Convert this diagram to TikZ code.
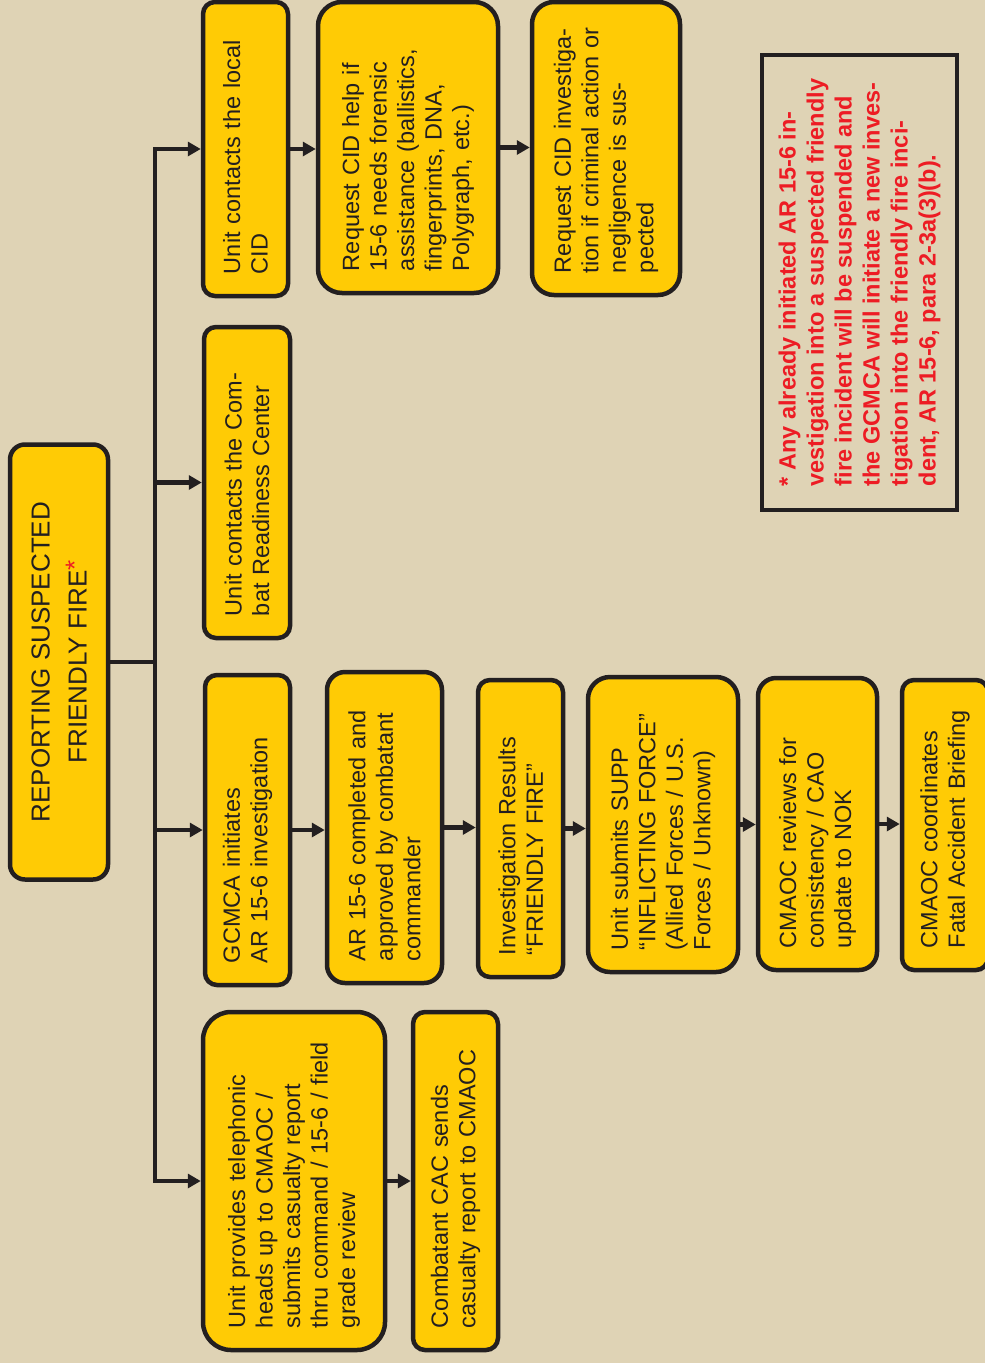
\documentclass[tikz,border=0pt]{standalone}
\usepackage{fontspec}
\setmainfont{Liberation Sans}
\usetikzlibrary{arrows.meta}
\definecolor{ffbg}{HTML}{DFD3B5}
\definecolor{ffbox}{HTML}{FFCB05}
\definecolor{ffline}{HTML}{231F20}
\definecolor{ffred}{HTML}{ED1C24}

\begin{document}
\begin{tikzpicture}[x=1pt,y=-1pt]
\useasboundingbox (0,0) rectangle (985,1363);
\clip (0,0) rectangle (985,1363);
\fill[ffbg] (0,0) rectangle (985,1363);

\begin{scope}[every node/.style={rotate=90,draw=ffline,line width=4.5pt,fill=ffbox,
                rounded corners=12pt,inner sep=0pt,align=left,text=ffline,
                font=\fontsize{23.5}{27.5}\selectfont}]
    \node[minimum width=435pt,minimum height=98pt,rounded corners=15pt,align=center,
          font=\fontsize{26}{37}\selectfont] (rsff) at (59,662)
          {REPORTING SUSPECTED\\FRIENDLY FIRE\raisebox{3pt}{\textcolor{ffred}{*}}};
    % CID branch
    \node[minimum width=294pt,minimum height=85pt,text width=250pt] (cid1) at (245.5,149)
          {Unit contacts the local\\CID};
    \node[minimum width=291pt,minimum height=180pt,text width=247pt,rounded corners=24pt] (cid2) at (408,147.5)
          {Request CID help if\\15-6 needs forensic\\assistance (ballistics,\\fingerprints, DNA,\\Polygraph, etc.)};
    \node[minimum width=293pt,minimum height=148pt,text width=249pt,rounded corners=22pt] (cid3) at (606,148.5)
          {Request CID investiga-\\tion if criminal action or\\negligence is sus-\\pected};
    \node[minimum width=311pt,minimum height=86pt,text width=267pt] (crc) at (247,482.5)
          {Unit contacts the Com-\\bat Readiness Center};
    % investigation branch
    \node[minimum width=310pt,minimum height=85pt,text width=266pt] (gcm) at (247.5,830)
          {GCMCA initiates\\AR 15-6 investigation};
    \node[minimum width=311pt,minimum height=115pt,text width=267pt,rounded corners=18pt] (apr) at (384.5,827.5)
          {AR 15-6 completed and\\approved by combatant\\commander};
    \node[minimum width=297pt,minimum height=85pt,text width=253pt] (res) at (520.5,828.5)
          {Investigation Results\\“FRIENDLY FIRE”};
    \node[minimum width=295pt,minimum height=150pt,text width=251pt,rounded corners=22pt] (supp) at (663,824.5)
          {Unit submits SUPP\\“INFLICTING FORCE”\\(Allied Forces / U.S.\\Forces / Unknown)};
    \node[minimum width=292pt,minimum height=119pt,text width=248pt,rounded corners=18pt] (rev) at (817.5,824)
          {CMAOC reviews for\\consistency / CAO\\update to NOK};
    \node[minimum width=290pt,minimum height=86pt,text width=246pt] (fab) at (945,825)
          {CMAOC coordinates\\Fatal Accident Briefing};
    % casualty report branch
    \node[minimum width=338pt,minimum height=182pt,text width=294pt,rounded corners=28pt] (tel) at (294,1181)
          {Unit provides telephonic\\heads up to CMAOC /\\submits casualty report\\thru command / 15-6 / field\\grade review};
    \node[minimum width=338pt,minimum height=85pt,text width=294pt] (cac) at (455.5,1181)
          {Combatant CAC sends\\casualty report to CMAOC};
    % footnote
    \node[minimum width=455pt,minimum height=195pt,sharp corners,fill=ffbg,text=ffred,
          font=\bfseries\fontsize{23.5}{28}\selectfont] (note) at (859.5,282.5)
          {* Any already initiated AR 15-6 in-\\vestigation into a suspected friendly\\fire incident will be suspended and\\the GCMCA will initiate a new inves-\\tigation into the friendly fire inci-\\dent, AR 15-6, para 2-3a(3)(b).};
\end{scope}

\begin{scope}[>={Triangle[length=13pt,width=14pt]},
              link/.style={draw=ffline,line width=4.5pt}]
    \coordinate (jt) at (155,662);
    \draw[link] (rsff.south) -- (jt);
    \draw[link,->] (jt) |- (cid1.north);
    \draw[link,->] (jt) |- (crc.north);
    \draw[link,->] (jt) |- (gcm.north);
    \draw[link,->] (jt) |- (tel.north);
    \draw[link,->] (cid1.south) -- (cid1.south -| cid2.north);
    \draw[link,->] (cid2.south) -- (cid2.south -| cid3.north);
    \draw[link,->] (gcm.south) -- (gcm.south -| apr.north);
    \draw[link,->] (apr.south) -- (apr.south -| res.north);
    \draw[link,->] (res.south) -- (res.south -| supp.north);
    \draw[link,->] (supp.south) -- (supp.south -| rev.north);
    \draw[link,->] (rev.south) -- (rev.south -| fab.north);
    \draw[link,->] (tel.south) -- (tel.south -| cac.north);
\end{scope}
\end{tikzpicture}
\end{document}
